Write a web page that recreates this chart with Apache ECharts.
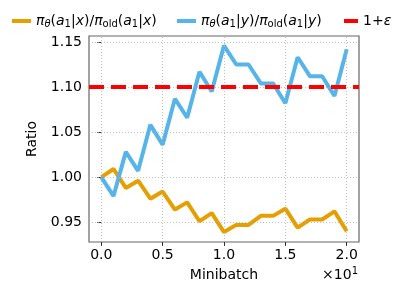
<!DOCTYPE html>
<html><head><meta charset="utf-8">
<script src="https://cdn.jsdelivr.net/npm/echarts@6/dist/echarts.min.js"></script>
<style>html,body{margin:0;padding:0;background:#fff}#c{width:407px;height:292px}</style>
</head><body><div id="c"></div>
<script>
const minibatch = [0,1,2,3,4,5,6,7,8,9,10,11,12,13,14,15,16,17,18,19,20];
const ratioX = [1.000,1.009,0.988,0.996,0.976,0.984,0.964,0.972,0.951,0.960,0.939,0.947,0.947,0.957,0.957,0.965,0.944,0.953,0.953,0.962,0.940];
const ratioY = [1.000,0.979,1.028,1.007,1.058,1.036,1.087,1.066,1.117,1.095,1.146,1.125,1.125,1.104,1.104,1.082,1.133,1.112,1.112,1.090,1.142];
const epsLine = 1.10;
const xTicks = [0,5,10,15,20];
const yTicks = [0.95,1.00,1.05,1.10,1.15];

const F = 'DejaVu Sans';
const chart = echarts.init(document.getElementById('c'));
const rich = {
  i:{fontFamily:F,fontSize:14,fontStyle:'italic',color:'#000'},
  n:{fontFamily:F,fontSize:14,color:'#000'},
  s:{fontFamily:F,fontSize:10,color:'#000',verticalAlign:'bottom',padding:[6,0,0,0]},
  si:{fontFamily:F,fontSize:10,fontStyle:'italic',color:'#000',padding:[6,0,0,0]}
};
const nameX = 'rx', nameY = 'ry', nameE = 'eps';
function lg(name, left, w, fmt){
  return {show:true, data:[{name:name}], left:left, top:14, itemWidth:w, itemHeight:4, icon:'rect',
    itemGap:0, padding:0, formatter:fmt, textStyle:{fontFamily:F,fontSize:14,color:'#000',rich:rich}};
}
const f1 = '{i|π}{si|θ}{n|(}{i|a}{s|1}{n||}{i|x}{n|)/}{i|π}{s|old}{n|(}{i|a}{s|1}{n||}{i|x}{n|)}';
const f2 = '{i|π}{si|θ}{n|(}{i|a}{s|1}{n||}{i|y}{n|)/}{i|π}{s|old}{n|(}{i|a}{s|1}{n||}{i|y}{n|)}';
chart.setOption({
  animation:false,
  legend:[
    lg(nameX, 12, 19, ()=>f1),
    lg(nameY, 177, 19, ()=>f2),
    lg(nameE, 344, 14, ()=>'{n|1+}{i|ε}')
  ],
  grid:{left:89,right:48,top:36,bottom:50,show:true,borderColor:'#666',borderWidth:1.2,backgroundColor:'transparent'},
  xAxis:{type:'value',min:-1,max:21,
    name:'Minibatch',nameLocation:'middle',nameGap:26,nameTextStyle:{fontFamily:F,fontSize:14,color:'#000'},
    axisLine:{show:false},
    axisTick:{show:true,customValues:xTicks,length:4,lineStyle:{color:'#333',width:1}},
    axisLabel:{customValues:xTicks,fontFamily:F,fontSize:14,color:'#000',margin:6,formatter:v=>(v/10).toFixed(1)},
    splitLine:{show:false}
  },
  yAxis:{type:'value',min:0.928,max:1.1566,
    name:'Ratio',nameLocation:'middle',nameGap:50,nameTextStyle:{fontFamily:F,fontSize:14,color:'#000'},
    axisLine:{show:false},
    axisTick:{show:true,customValues:yTicks,length:4,lineStyle:{color:'#333',width:1}},
    axisLabel:{customValues:yTicks,fontFamily:F,fontSize:14,color:'#000',margin:7,formatter:v=>v.toFixed(2)},
    splitLine:{show:false}
  },
  graphic:[{type:'text',right:49,top:266,style:{text:'×10{a|1}',font:'14px "DejaVu Sans"',fill:'#000',
    rich:{a:{fontFamily:F,fontSize:10,padding:[0,0,8,0],fill:'#000'}}}}],
  series:[
    {name:'grid',type:'line',data:[],silent:true,
      markLine:{silent:true,symbol:'none',label:{show:false},animation:false,
        lineStyle:{color:'#b0b0b0',type:[1,2],width:0.8},
        data:xTicks.map(v=>({xAxis:v})).concat(yTicks.map(v=>({yAxis:v})))}},
    {name:nameE,type:'line',data:[],color:'#ff0000',
      markLine:{silent:true,symbol:'none',label:{show:false},
        lineStyle:{color:'#ff0000',type:[15,7],width:4},data:[{yAxis:epsLine}]}},
    {name:nameX,type:'line',data:minibatch.map((x,i)=>[x,ratioX[i]]),showSymbol:false,color:'#E69F00',
      lineStyle:{width:4,color:'#E69F00'},z:3},
    {name:nameY,type:'line',data:minibatch.map((x,i)=>[x,ratioY[i]]),showSymbol:false,color:'#56B4E9',
      lineStyle:{width:4,color:'#56B4E9'},z:4}
  ]
});
</script></body></html>
